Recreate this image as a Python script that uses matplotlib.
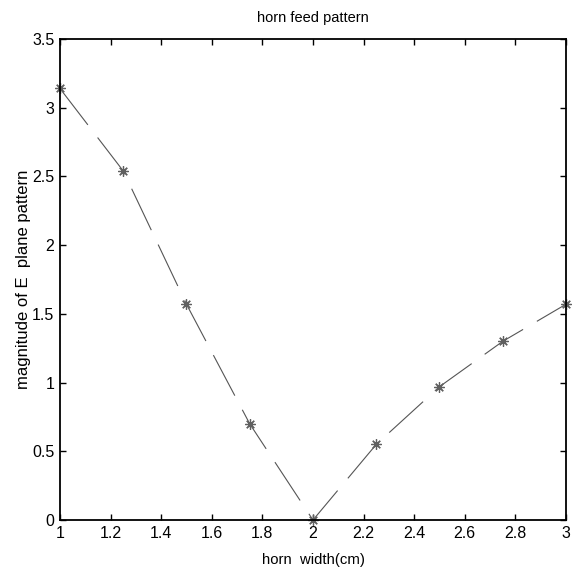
import matplotlib
matplotlib.use("Agg")
import matplotlib.pyplot as plt

# horn width (cm) and E-plane pattern magnitude
widths = [1.0, 1.25, 1.5, 1.75, 2.0, 2.25, 2.5, 2.75, 3.0]
magnitude = [3.14, 2.54, 1.57, 0.70, 0.0, 0.55, 0.97, 1.30, 1.57]

x_ticks = [1, 1.2, 1.4, 1.6, 1.8, 2, 2.2, 2.4, 2.6, 2.8, 3]
x_labels = ["1", "1.2", "1.4", "1.6", "1.8", "2", "2.2", "2.4", "2.6", "2.8", "3"]
y_ticks = [0, 0.5, 1, 1.5, 2, 2.5, 3, 3.5]
y_labels = ["0", "0.5", "1", "1.5", "2", "2.5", "3", "3.5"]

plt.rcParams["font.family"] = ["Liberation Sans", "DejaVu Sans"]
plt.rcParams["lines.scale_dashes"] = False

fig = plt.figure(figsize=(5.75, 5.78), dpi=100)
ax = fig.add_axes([0.1043, 0.1003, 0.8800, 0.8322])

# matlab style '*' marker: + and x overlaid
ax.plot(widths, magnitude, color="#555555", linewidth=0.8,
        linestyle=(0, (33, 11.5)), marker=(8, 2, 0), markersize=7.5,
        markeredgewidth=0.9, markeredgecolor="#606060", clip_on=False)

ax.set_xlim(1, 3)
ax.set_ylim(0, 3.5)
ax.set_xticks(x_ticks)
ax.set_xticklabels(x_labels)
ax.set_yticks(y_ticks)
ax.set_yticklabels(y_labels)

ax.tick_params(direction="in", length=4, width=1, top=True, right=True,
               labelsize=11.5, pad=4)
for side in ax.spines.values():
    side.set_linewidth(1.3)

ax.set_title("horn feed pattern", fontsize=10.5, pad=12)
ax.set_xlabel("horn  width(cm)", fontsize=10.7, labelpad=9)
ax.set_ylabel("magnitude of E  plane pattern", fontsize=12, labelpad=1)

fig.savefig("out.png", dpi=100)
plt.close(fig)
